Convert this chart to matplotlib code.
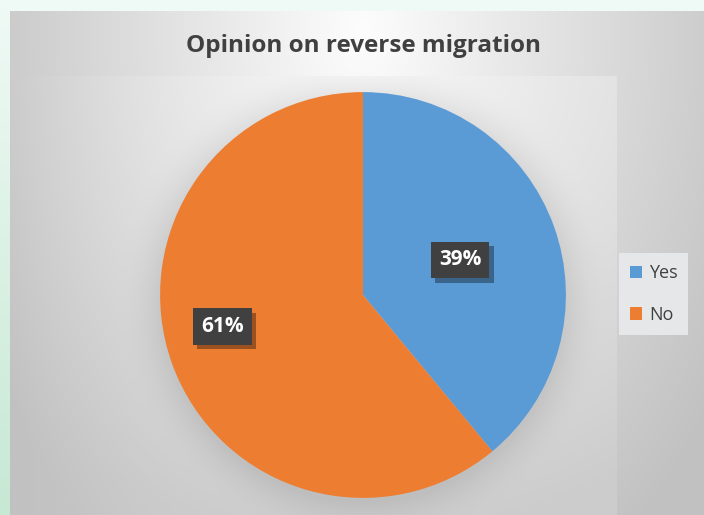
import numpy as np
import matplotlib.pyplot as plt
import matplotlib.patheffects as pe
from matplotlib.patches import Patch

plt.rcParams['font.family'] = ['Open Sans', 'DejaVu Sans']

# data
title = 'Opinion on reverse migration'
labels = ['Yes', 'No']
shares = [39, 61]
colors = ['#5B9BD5', '#ED7D31']
label_dist = [0.51, 0.71]
label_turn = [0, -7]   # degrees, excel nudges the big label upward

W, H = 704, 515
fig = plt.figure(figsize=(W / 100, H / 100), dpi=100, facecolor='#EFFAF6')

# background painted in pixel coordinates
bg = fig.add_axes([0, 0, 1, 1])
bg.axis('off')

cx, cy, r = 363, 295, 203


def chart_shade(X, Y):
    d = np.sqrt(((X - 363) / 430) ** 2 + ((Y - 30) / 650) ** 2)
    d = np.clip(d, 0, 1)
    return (253 - 60 * d) / 255


def plot_shade(X, Y):
    d = np.sqrt(((X - 363) / 520) ** 2 + ((Y - 60) / 480) ** 2)
    d = np.clip(d, 0, 1)
    v = (249 - 45 * d) / 255
    # fade into chart area on the left side
    w = np.clip((X - 10) / 260, 0, 1)
    v = chart_shade(X, Y) + w * (v - chart_shade(X, Y))
    dp = np.hypot(X - cx, Y - (cy + 4))
    halo = np.clip(1 - (dp - r) / 45, 0, 1)
    return v - 0.07 * halo ** 2


def paint(x0, x1, y0, y1, shade):
    xs = np.arange(x0, x1) + 0.5
    ys = np.arange(y0, y1) + 0.5
    X, Y = np.meshgrid(xs, ys)
    v = np.clip(shade(X, Y), 0, 1)
    bg.imshow(np.dstack([v, v, v]), extent=(x0, x1, y1, y0), origin='upper',
              aspect='auto', interpolation='bilinear')


# green slide strip on the left
ys = np.arange(0, H) + 0.5
t = np.repeat((ys / H)[:, None], 10, axis=1)[..., None]
top = np.array([0.94, 0.98, 0.965])
bot = np.array([0.78, 0.91, 0.83])
bg.imshow(top + (bot - top) * t, extent=(0, 10, H, 0), origin='upper', aspect='auto')

paint(10, W, 11, H, chart_shade)
paint(10, 617, 76, H, plot_shade)
bg.set_xlim(0, W)
bg.set_ylim(H, 0)

# pie
pax = fig.add_axes([(cx - 210) / W, (H - cy - 210) / H, 420 / W, 420 / H])
wedges, _ = pax.pie(shares, colors=colors, startangle=90, counterclock=False,
                    radius=1, wedgeprops=dict(linewidth=0))
pax.set_xlim(-1.035, 1.035)
pax.set_ylim(-1.035, 1.035)
pax.axis('off')

for w, v, dist, turn in zip(wedges, shares, label_dist, label_turn):
    ang = np.deg2rad((w.theta1 + w.theta2) / 2 + turn)
    txt = pax.text(dist * np.cos(ang), dist * np.sin(ang), f'{v}%',
                   ha='center', va='center', fontsize=15, fontweight='bold',
                   color='white',
                   bbox=dict(boxstyle='square,pad=0.38', fc='#404040', ec='none'))
    txt.get_bbox_patch().set_path_effects(
        [pe.SimplePatchShadow(offset=(3, -3), shadow_rgbFace='black', alpha=0.35),
         pe.Normal()])

fig.text(cx / W, 1 - 46 / H, title, ha='center', va='center', fontsize=17.5,
         fontweight='bold', color='#404040')

handles = [Patch(facecolor=c, edgecolor='none', label=l) for c, l in zip(colors, labels)]
fig.legend(handles=handles, loc='center left', bbox_to_anchor=(619 / W, 1 - 294 / H),
           frameon=True, facecolor='#E6E7E9', edgecolor='none', framealpha=1,
           fancybox=False, fontsize=13, labelcolor='#404040', handlelength=0.7,
           handleheight=0.7, handletextpad=0.35, labelspacing=1.3, borderpad=0.6,
           borderaxespad=0)

fig.savefig('out.png', dpi=100)
